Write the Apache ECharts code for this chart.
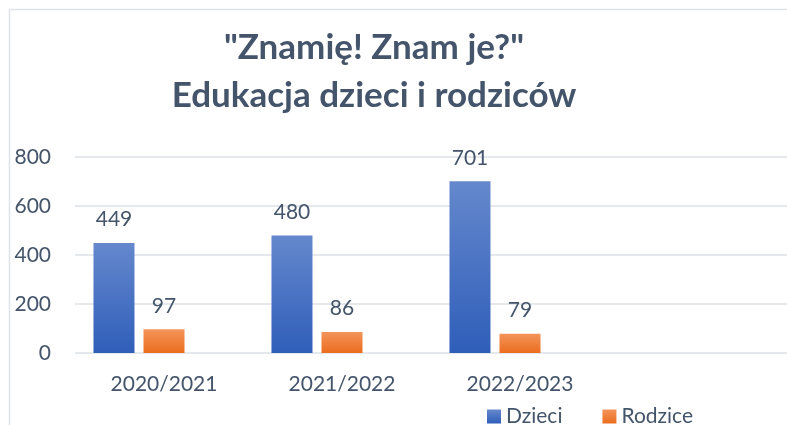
<!DOCTYPE html>
<html>
<head>
<meta charset="utf-8">
<script src="https://cdn.jsdelivr.net/npm/echarts@6/dist/echarts.min.js"></script>
<style>
  html, body { margin: 0; padding: 0; background: #fff; }
  #main { width: 787px; height: 425px; }
</style>
</head>
<body>
<div id="main"></div>
<script>
const categories = ['2020/2021', '2021/2022', '2022/2023', ''];
const dzieci = [449, 480, 701, null];
const rodzice = [97, 86, 79, null];
// empty third series from the original sheet, keeps the bars left of the band center
const pusta = [null, null, null, null];
const yTicks = [0, 200, 400, 600, 800];

const textColor = '#44546a';
const font = 'Lato, "Open Sans", sans-serif';

const chart = echarts.init(document.getElementById('main'));

const grad = (top, bottom) => new echarts.graphic.LinearGradient(0, 0, 0, 1, [
  { offset: 0, color: top },
  { offset: 1, color: bottom }
]);

const labelStyle = {
  show: true,
  position: 'top',
  distance: 13,
  color: textColor,
  fontSize: 21,
  fontFamily: font
};

const option = {
  animation: false,
  graphic: [{
    type: 'rect',
    shape: { x: 9.5, y: 9.5, width: 800, height: 440 },
    style: { fill: 'none', stroke: '#dfe3e8', lineWidth: 1.5 },
    silent: true
  }],
  title: {
    text: '"Znamię! Znam je?"\nEdukacja dzieci i rodziców',
    left: 369,
    top: 19,
    textAlign: 'center',
    textStyle: {
      color: textColor,
      fontSize: 35,
      fontWeight: 'bold',
      fontFamily: font,
      lineHeight: 48
    }
  },
  legend: {
    data: ['Dzieci', 'Rodzice'],
    left: 482,
    top: 401,
    itemWidth: 14,
    itemHeight: 14,
    itemGap: 40,
    icon: 'rect',
    textStyle: { color: textColor, fontSize: 21, fontFamily: font }
  },
  grid: { left: 75, top: 157, width: 718, bottom: 72 },
  xAxis: {
    type: 'category',
    data: categories,
    axisLine: { show: false },
    axisTick: { show: false },
    axisLabel: { color: textColor, fontSize: 21, fontFamily: font, margin: 21 }
  },
  yAxis: {
    type: 'value',
    min: yTicks[0],
    max: yTicks[yTicks.length - 1],
    interval: 200,
    axisLine: { show: false },
    axisTick: { show: false },
    axisLabel: { color: textColor, fontSize: 21, fontFamily: font, margin: 24 },
    splitLine: { lineStyle: { color: '#dde1e6', width: 1.5 } }
  },
  series: [
    {
      name: 'Dzieci',
      type: 'bar',
      data: dzieci,
      barWidth: 41,
      barGap: '22%',
      itemStyle: { color: grad('#6588cd', '#2f5eb9') },
      label: labelStyle
    },
    {
      name: 'Rodzice',
      type: 'bar',
      data: rodzice,
      barWidth: 41,
      barGap: '22%',
      itemStyle: { color: grad('#f4945a', '#eb6d1e') },
      label: labelStyle
    },
    {
      name: 'Pusta',
      type: 'bar',
      data: pusta,
      barWidth: 41,
      barGap: '22%'
    }
  ]
};

chart.setOption(option);
</script>
</body>
</html>
